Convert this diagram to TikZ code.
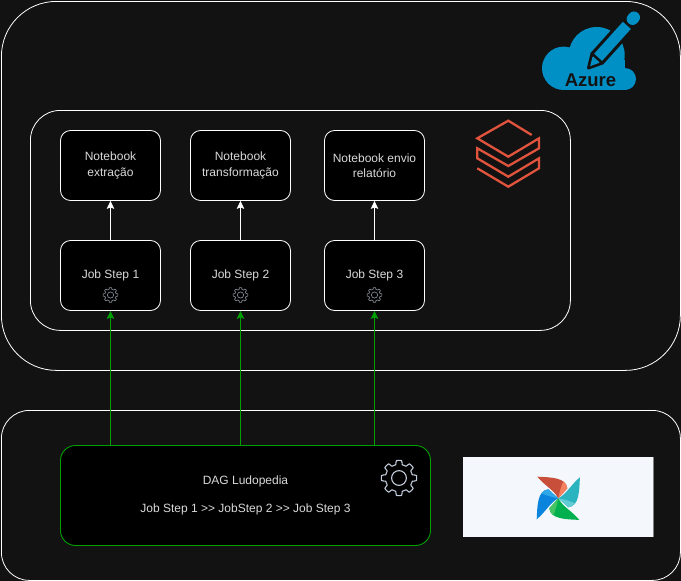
\documentclass[tikz,border=0pt]{standalone}
\usepackage{fontspec}
\setmainfont{Liberation Sans}
\usetikzlibrary{arrows.meta}

\definecolor{pagebg}{HTML}{121212}
\definecolor{flowgreen}{HTML}{009F00}
\definecolor{azureblue}{HTML}{0090C6}
\definecolor{brickred}{HTML}{E0533D}
\definecolor{geargray}{HTML}{C2CCDA}
\definecolor{logobg}{HTML}{F4F8FC}

\tikzset{
	panel node/.style={draw=white,fill=pagebg,line width=0.8pt,rounded corners=#1,anchor=north west,inner sep=0pt},
	step node/.style={draw=white,fill=black,text=white!85!black,line width=0.8pt,rounded corners=10pt,
		minimum width=100pt,minimum height=70pt,inner sep=0pt,align=center,font=\fontsize{12}{15.5}\selectfont},
	dag node/.style={draw=flowgreen,fill=black,text=white!85!black,line width=0.9pt,rounded corners=15pt,
		minimum width=370pt,minimum height=100pt,align=center,font=\fontsize{12}{15}\selectfont},
	call/.style={-{Stealth[length=8pt,width=7.5pt,inset=1.5pt]},white,line width=0.8pt},
	flow/.style={-{Stealth[length=8pt,width=7.5pt,inset=1.5pt]},flowgreen,line width=1.1pt},
	gearicon/.pic={
		\draw[pic actions,line join=round] plot[domain=0:360,samples=181,variable=\t]
			({(15.6+2*max(-1,min(1,3*cos(8*\t))))*cos(\t)},{(15.6+2*max(-1,min(1,3*cos(8*\t))))*sin(\t)}) -- cycle;
		\draw[pic actions] (0,0) circle (7.4);
	}
}

\begin{document}
\begin{tikzpicture}[x=1pt,y=-1pt]

	\useasboundingbox[fill=pagebg] (0,0) rectangle (681,581);

	% panels
	\node[panel node=55pt,minimum width=679pt,minimum height=369pt] (cloudpanel) at (1,1) {};
	\node[panel node=30pt,minimum width=540pt,minimum height=220pt] (brickspanel) at (30,110) {};
	\node[panel node=28pt,minimum width=679pt,minimum height=170pt] (airflowpanel) at (1,410) {};

	% notebooks and job steps
	\foreach \s/\x/\nb in {1/110.5/{Notebook\\extração},2/240.5/{Notebook\\transformação},3/374.5/{Notebook envio\\relatório}} {
		\node[step node] (nb\s) at (\x,165.5) {\nb};
		\node[step node] (job\s) at (\x,275.5) {Job Step \s};
		\pic[draw=geargray!75!black,line width=0.6pt,scale=0.42] at (\x,295) {gearicon};
		\draw[call] (job\s) -- (nb\s);
	}

	% dag
	\node[dag node] (dag) at (245.5,495.5) {\raisebox{-1pt}{DAG Ludopedia}\\[13pt]\raisebox{-1pt}{Job Step 1 {>}{>} JobStep 2 {>}{>} Job Step 3}};
	\pic[draw=geargray,line width=1.1pt] at (399,478) {gearicon};

	\foreach \s in {1,2,3} {
		\draw[flow] (job\s |- dag.north) -- (job\s);
	}

	% azure logo
	\fill[azureblue] (563.7,68.3) circle (21.7) (596.7,55) circle (28) (625,79) circle (11);
	\fill[azureblue] (563.7,60) rectangle (625,90);
	\begin{scope}[shift={(588.5,68)},rotate=48]
		\draw[fill=azureblue,draw=pagebg,line width=3pt,line join=round] (0,0) -- (13,-7) -- (59,-7) -- (59,7) -- (13,7) -- cycle;
		\draw[pagebg,line width=2.5pt] (13,-7) -- (13,7);
		\fill[azureblue] (2.5,0) -- (11,-4.5) -- (11,4.5) -- cycle;
		\draw[azureblue,line width=12pt,line cap=round] (66,0) -- (68,0);
	\end{scope}
	\node[font=\bfseries\fontsize{18.5}{18}\selectfont,text=pagebg,inner sep=0pt] (azurelabel) at (590.5,80) {Azure};

	% databricks logo
	\draw[brickred,line width=2.3pt,miter limit=4] (531.7,135) -- (508.3,120.7) -- (477.3,138.3) -- (508.3,156.7) -- (539,138.3)
		-- (539,148.3) -- (508.3,166) -- (477.3,148.3) -- (477.3,158.3) -- (508.3,176.7) -- (539,158.3)
		-- (539,168.3) -- (508.3,186.7) -- (477.3,168.3);

	% airflow logo
	\node[fill=logobg,minimum width=190pt,minimum height=80pt,inner sep=0pt] (airflowlogo) at (558,497) {};
	\draw[gray,line width=0.8pt] (airflowlogo.north east) -- (airflowlogo.south east);
	\foreach \ang/\main/\light in {0/C8503A/F5805F,-90/2BB3BF/62CCD4,-180/00B04F/45C464,-270/0A84DC/2FA8E8} {
		\definecolor{blademain}{HTML}{\main}
		\definecolor{bladelight}{HTML}{\light}
		\begin{scope}[shift={(558.3,498.3)},rotate=\ang]
			\fill[blademain] (-21,-21.6) .. controls (-8,-21) and (8,-21) .. (9,-10) -- (0,0) .. controls (-4,-8) and (-14,-13) .. cycle;
			\fill[bladelight] (5,-17) .. controls (7,-15) and (9,-13) .. (9,-10) -- (0,0) .. controls (1,-6) and (3,-12) .. cycle;
		\end{scope}
	}
\end{tikzpicture}
\end{document}
